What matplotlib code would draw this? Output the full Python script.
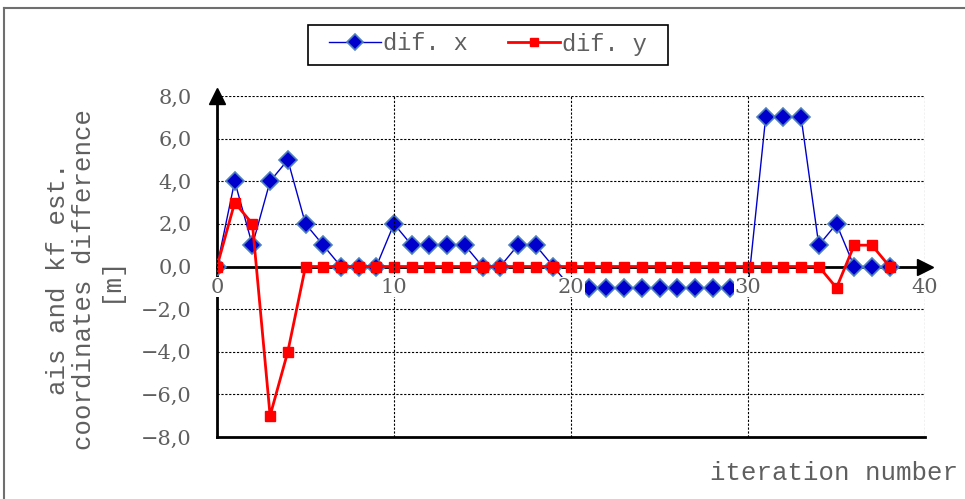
import matplotlib.pyplot as plt
from matplotlib.ticker import FuncFormatter
from matplotlib.lines import Line2D
from matplotlib.patches import Rectangle

# ==========================================
# data
iters = list(range(39))
dif_x = [0, 4, 1, 4, 5, 2, 1, 0, 0, 0,
         2, 1, 1, 1, 1, 0, 0, 1, 1, 0,
         -1, -1, -1, -1, -1, -1, -1, -1, -1, -1,
         -1, 7, 7, 7, 1, 2, 0, 0, 0]
dif_y = [0, 3, 2, -7, -4, 0, 0, 0, 0, 0,
         0, 0, 0, 0, 0, 0, 0, 0, 0, 0,
         0, 0, 0, 0, 0, 0, 0, 0, 0, 0,
         0, 0, 0, 0, 0, -1, 1, 1, 0]
x_ticks = [0, 10, 20, 30, 40]
y_ticks = [-8, -6, -4, -2, 0, 2, 4, 6, 8]
# ==========================================

grey = '#5f5f5f'
mono = ['Liberation Mono', 'DejaVu Sans Mono']
serif = ['DejaVu Serif', 'Liberation Serif']

fig = plt.figure(figsize=(9.65, 4.99), dpi=100)
ax = fig.add_axes([217 / 965, 1 - 437 / 499, 708 / 965, 341 / 499])

ax.plot(iters, dif_x, color='#0000CC', lw=1, marker='D', ms=9,
        mfc='#0000CC', mec='#4F81BD', mew=1.2, label='dif. x', zorder=3)
ax.plot(iters, dif_y, color='#FF0000', lw=2, marker='s', ms=7,
        mfc='#FF0000', mec='#FF0000', label='dif. y', zorder=4)

ax.set_xlim(0, 40)
ax.set_ylim(-8, 8)
ax.set_xticks(x_ticks)
ax.set_yticks(y_ticks)
ax.yaxis.set_major_formatter(FuncFormatter(
    lambda v, p: f"{v:.1f}".replace('.', ',').replace('-', '\u2212')))

# grid: dashed black lines, frame top/right are grid lines too
ax.grid(True, color='black', ls=(0, (2, 1.5)), lw=0.8)
ax.set_axisbelow(True)
for s in ['top', 'right']:
    ax.spines[s].set_visible(False)
ax.spines['left'].set_linewidth(2)
ax.spines['bottom'].set_position(('data', 0))
ax.spines['bottom'].set_linewidth(2)
ax.spines['bottom'].set_zorder(2.5)
ax.axhline(-8, color='black', lw=2, zorder=2.5, clip_on=False)

# arrows at the end of the axes
ax.plot([1], [0], marker='>', ms=12, color='black',
        transform=ax.get_yaxis_transform(), clip_on=False, zorder=6)
ax.plot([0], [1], marker='^', ms=12, color='black',
        transform=ax.get_xaxis_transform(), clip_on=False, zorder=6)

ax.tick_params(axis='both', length=0, labelcolor=grey)
ax.tick_params(axis='y', pad=18)
ax.tick_params(axis='x', pad=8)
for lbl in ax.get_yticklabels():
    lbl.set_fontfamily(serif)
    lbl.set_fontsize(15)
for lbl in ax.get_xticklabels():
    lbl.set_fontfamily(serif)
    lbl.set_fontsize(15)
    lbl.set_bbox(dict(facecolor='white', edgecolor='none', pad=0.5))
ax.xaxis.set_zorder(5)

fig.text(84 / 965, 1 - 279 / 499, 'ais and kf est.\ncoordinates difference\n[m]',
         rotation=90, ha='center', va='center', multialignment='center',
         family=mono, fontsize=18.5, color=grey, linespacing=1.1)
fig.text(958 / 965, 1 - 473 / 499, 'iteration number', ha='right', va='center',
         family=mono, fontsize=18.5, color=grey)

leg = fig.legend(loc='center', bbox_to_anchor=(488 / 965, 1 - 44 / 499), ncol=2,
                 frameon=False, prop={'family': mono, 'size': 17}, handlelength=2.2,
                 handletextpad=0.1, columnspacing=1.7, borderpad=0.35,
                 borderaxespad=0, markerscale=0.9)
for t in leg.get_texts():
    t.set_color(grey)
# legend frame (wider than the content, as in the source chart)
fig.add_artist(Rectangle((308 / 965, 1 - 65 / 499), 360 / 965, 40 / 499,
                         transform=fig.transFigure, fill=False,
                         edgecolor='black', lw=1.2))

# outer chart border
fig.add_artist(Line2D([4 / 965, 4 / 965], [0, 1 - 8 / 499], color='#6f6f6f', lw=1.5))
fig.add_artist(Line2D([4 / 965, 1], [1 - 8 / 499, 1 - 8 / 499], color='#6f6f6f', lw=1.5))

plt.savefig('out.png', dpi=100)
